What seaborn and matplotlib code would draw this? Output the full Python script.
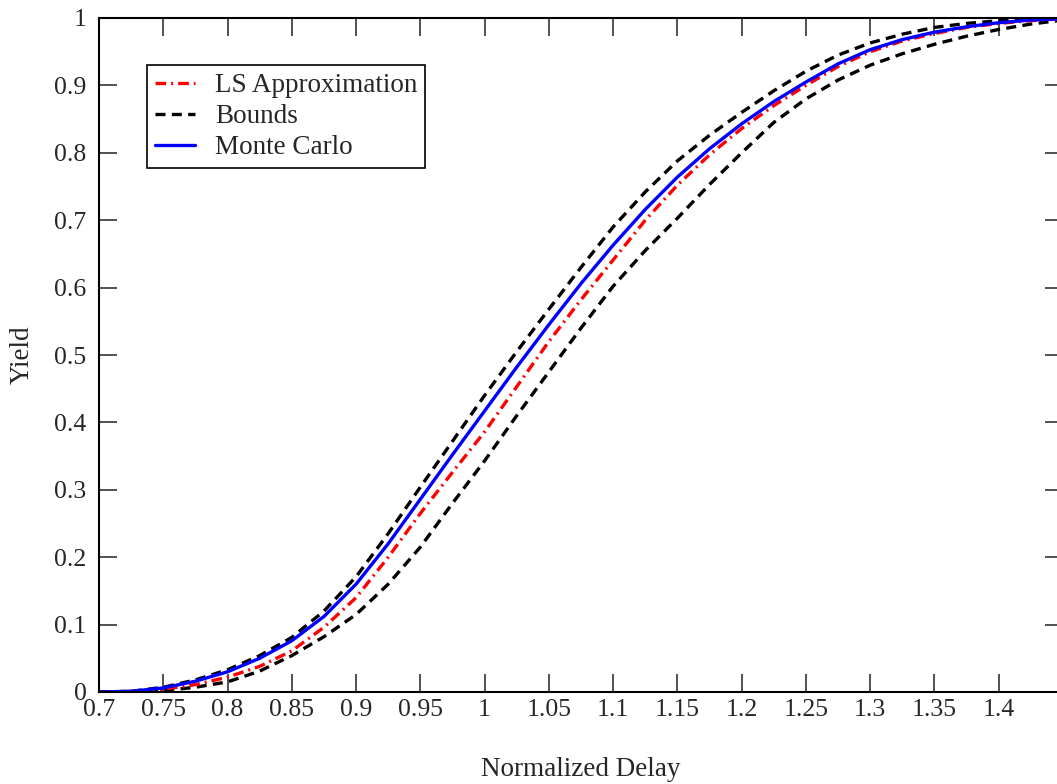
import matplotlib
matplotlib.use("Agg")
import matplotlib.pyplot as plt
import seaborn as sns
import pandas as pd
from matplotlib.lines import Line2D

delay = [0.700, 0.725, 0.750, 0.775, 0.800, 0.825, 0.850, 0.875, 0.900, 0.925, 0.950,
         0.975, 1.000, 1.025, 1.050, 1.075, 1.100, 1.125, 1.150, 1.175, 1.200, 1.225,
         1.250, 1.275, 1.300, 1.325, 1.350, 1.375, 1.400, 1.425, 1.450]
monte_carlo = [0.000, 0.001, 0.006, 0.016, 0.030, 0.050, 0.076, 0.112, 0.160, 0.220, 0.286,
               0.352, 0.417, 0.482, 0.545, 0.606, 0.663, 0.716, 0.764, 0.806, 0.843, 0.876,
               0.905, 0.932, 0.953, 0.968, 0.979, 0.987, 0.993, 0.997, 0.999]
ls_approx = [0.000, 0.001, 0.004, 0.011, 0.022, 0.038, 0.061, 0.096, 0.140, 0.200, 0.265,
             0.326, 0.386, 0.453, 0.520, 0.582, 0.641, 0.700, 0.752, 0.797, 0.836, 0.870,
             0.900, 0.928, 0.950, 0.966, 0.977, 0.986, 0.992, 0.996, 0.999]
upper_bound = [0.000, 0.001, 0.007, 0.018, 0.033, 0.054, 0.081, 0.120, 0.171, 0.235, 0.304,
               0.372, 0.440, 0.505, 0.568, 0.630, 0.690, 0.742, 0.788, 0.826, 0.860, 0.892,
               0.921, 0.945, 0.963, 0.976, 0.986, 0.992, 0.996, 0.999, 1.000]
lower_bound = [0.000, 0.0005, 0.002, 0.007, 0.015, 0.031, 0.054, 0.082, 0.115, 0.160, 0.215,
               0.280, 0.343, 0.410, 0.475, 0.540, 0.602, 0.655, 0.703, 0.753, 0.800, 0.845,
               0.880, 0.908, 0.930, 0.947, 0.961, 0.973, 0.983, 0.991, 0.997]

x_ticks = [0.7, 0.75, 0.8, 0.85, 0.9, 0.95, 1.0, 1.05, 1.1, 1.15, 1.2, 1.25, 1.3, 1.35, 1.4]
x_tick_labels = ["0.7", "0.75", "0.8", "0.85", "0.9", "0.95", "1", "1.05", "1.1", "1.15",
                 "1.2", "1.25", "1.3", "1.35", "1.4"]
y_ticks = [0, 0.1, 0.2, 0.3, 0.4, 0.5, 0.6, 0.7, 0.8, 0.9, 1.0]
y_tick_labels = ["0", "0.1", "0.2", "0.3", "0.4", "0.5", "0.6", "0.7", "0.8", "0.9", "1"]

sns.set_style("ticks")
plt.rcParams["font.family"] = ["Liberation Serif", "DejaVu Serif"]

fig = plt.figure(figsize=(10.57, 7.84), dpi=100)
ax = fig.add_axes([99 / 1057, 1 - 692 / 784, (1063 - 99) / 1057, 674 / 784])

df = pd.DataFrame({"delay": delay, "mc": monte_carlo, "ls": ls_approx,
                   "ub": upper_bound, "lb": lower_bound})

lw = 2.4
dash_bounds = (0, (3.0, 1.9))
dash_ls = (0, (3.2, 1.5, 0.6, 1.5))
sns.lineplot(data=df, x="delay", y="ub", ax=ax, color="black", lw=lw,
             linestyle=dash_bounds, estimator=None, sort=False)
sns.lineplot(data=df, x="delay", y="lb", ax=ax, color="black", lw=lw,
             linestyle=dash_bounds, estimator=None, sort=False)
sns.lineplot(data=df, x="delay", y="ls", ax=ax, color="#ff0000", lw=lw,
             linestyle=dash_ls, estimator=None, sort=False)
sns.lineplot(data=df, x="delay", y="mc", ax=ax, color="#0000ff", lw=lw,
             estimator=None, sort=False)

ax.set_xlim(0.7, 1.45)
ax.set_ylim(0, 1)
ax.set_xticks(x_ticks)
ax.set_xticklabels(x_tick_labels)
ax.set_yticks(y_ticks)
ax.set_yticklabels(y_tick_labels)
ax.tick_params(direction="in", length=13, width=1.1, labelsize=18.5, top=True, right=True,
               color="#222222", pad=5)
ax.tick_params(axis="y", pad=9)
for s in ax.spines.values():
    s.set_linewidth(1.5)
    s.set_color("black")
    s.set_visible(True)

ax.set_xlabel("Normalized Delay", fontsize=19.5, labelpad=26)
ax.set_ylabel("Yield", fontsize=19.5, labelpad=14)

handles = [
    Line2D([], [], color="#ff0000", lw=lw, linestyle=dash_ls),
    Line2D([], [], color="black", lw=lw, linestyle=dash_bounds),
    Line2D([], [], color="#0000ff", lw=lw),
]
leg = ax.legend(handles, ["LS Approximation", "Bounds", "Monte Carlo"],
                loc="upper left", bbox_to_anchor=(0.05, 0.93), borderaxespad=0,
                fontsize=19.5, handlelength=1.45, handletextpad=0.75, labelspacing=0.22,
                fancybox=False, framealpha=1, edgecolor="black", borderpad=0.3)
leg.get_frame().set_linewidth(1.2)

fig.savefig("out.png", dpi=100)
